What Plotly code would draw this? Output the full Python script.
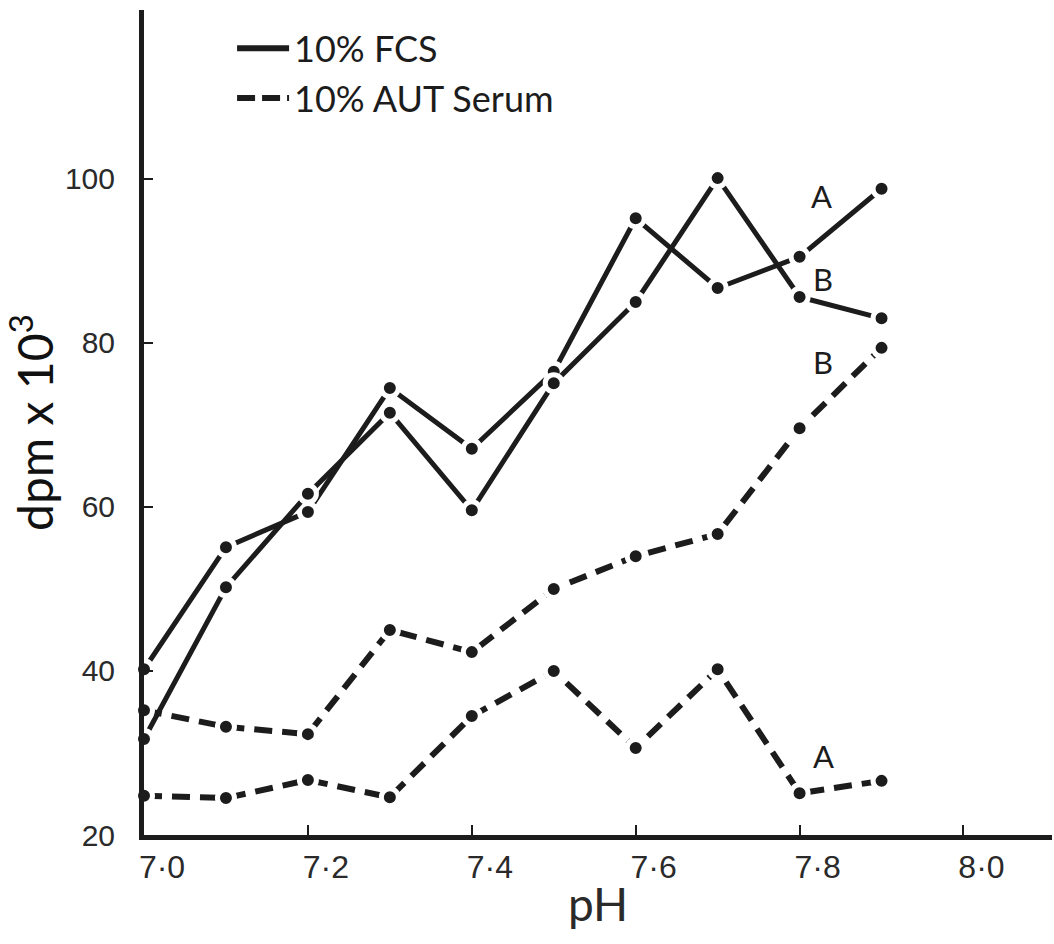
import plotly.graph_objects as go

# pH steps and incorporation (dpm x 10^3)
ph = [7.0, 7.1, 7.2, 7.3, 7.4, 7.5, 7.6, 7.7, 7.8, 7.9]
fcs_a = [40.2, 55.1, 59.4, 74.5, 67.1, 76.5, 95.2, 86.7, 90.5, 98.8]
fcs_b = [31.7, 50.2, 61.6, 71.5, 59.6, 75.1, 85.0, 100.1, 85.6, 83.0]
aut_b = [35.2, 33.2, 32.3, 45.0, 42.3, 50.0, 54.0, 56.7, 69.6, 79.4]
aut_a = [24.8, 24.5, 26.7, 24.6, 34.5, 40.0, 30.6, 40.2, 25.1, 26.6]

x_ticks = [7.0, 7.2, 7.4, 7.6, 7.8, 8.0]
x_ticktext = ["7·0", "7·2", "7·4", "7·6", "7·8", "8·0"]
y_ticks = [20, 40, 60, 80, 100]

# curve labels: (text, pH, dpm)
curve_labels = [("A", 7.827, 97.9), ("B", 7.828, 87.8), ("B", 7.828, 77.7), ("A", 7.829, 29.6)]

INK = "#1c1c1c"
DASH = "18px,10px"
TEXT_FONT = "Lato, 'DejaVu Sans', sans-serif"
NUM_FONT = "'Liberation Sans', Arial, sans-serif"

marker = dict(size=17, color=INK, line=dict(color="white", width=5))

fig = go.Figure()

for ys in (fcs_a, fcs_b):
    fig.add_trace(go.Scatter(x=ph, y=ys, mode="lines+markers",
                             line=dict(color=INK, width=5),
                             marker=marker, showlegend=False, cliponaxis=False))
for ys in (aut_b, aut_a):
    fig.add_trace(go.Scatter(x=ph, y=ys, mode="lines+markers",
                             line=dict(color=INK, width=6, dash=DASH),
                             marker=marker, showlegend=False, cliponaxis=False))

# legend entries (line keys only)
fig.add_trace(go.Scatter(x=[None], y=[None], mode="lines", name="10% FCS",
                         line=dict(color=INK, width=6)))
fig.add_trace(go.Scatter(x=[None], y=[None], mode="lines", name="10% AUT Serum",
                         line=dict(color=INK, width=6, dash="18px,7px")))

for txt, xv, yv in curve_labels:
    fig.add_annotation(x=xv, y=yv, text=txt, showarrow=False,
                       font=dict(family=TEXT_FONT, size=31, color=INK))

fig.update_layout(
    width=1054, height=944,
    margin=dict(l=144, r=2, t=10, b=109),
    paper_bgcolor="white", plot_bgcolor="white",
    showlegend=True,
    legend=dict(x=0.097, y=0.99, xanchor="left", yanchor="top",
                font=dict(family=TEXT_FONT, size=36, color=INK),
                bgcolor="rgba(0,0,0,0)", itemwidth=52, tracegroupgap=0),
)

fig.update_xaxes(
    range=[7.0, 8.108], showgrid=False, zeroline=False,
    showline=True, linecolor=INK, linewidth=5,
    tickmode="array", tickvals=x_ticks, ticktext=x_ticktext,
    ticks="inside", ticklen=10, tickwidth=2, tickcolor=INK,
    tickfont=dict(family=NUM_FONT, size=32, color="#2a2a2a"),
    ticklabelshift=18, ticklabelstandoff=0,
    title=dict(text="pH", font=dict(family=TEXT_FONT, size=46, color="#2a2a2a"), standoff=6),
)
fig.update_yaxes(
    range=[20, 120.6], showgrid=False, zeroline=False,
    showline=True, linecolor=INK, linewidth=5,
    tickmode="array", tickvals=y_ticks,
    ticks="inside", ticklen=9, tickwidth=2, tickcolor=INK,
    tickfont=dict(family=NUM_FONT, size=30, color="#2a2a2a"),
    ticklabelstandoff=18,
    title=dict(text="dpm x 10<sup>3</sup>", font=dict(family=TEXT_FONT, size=48, color="#111"), standoff=2),
)

fig.write_html("out.html")
